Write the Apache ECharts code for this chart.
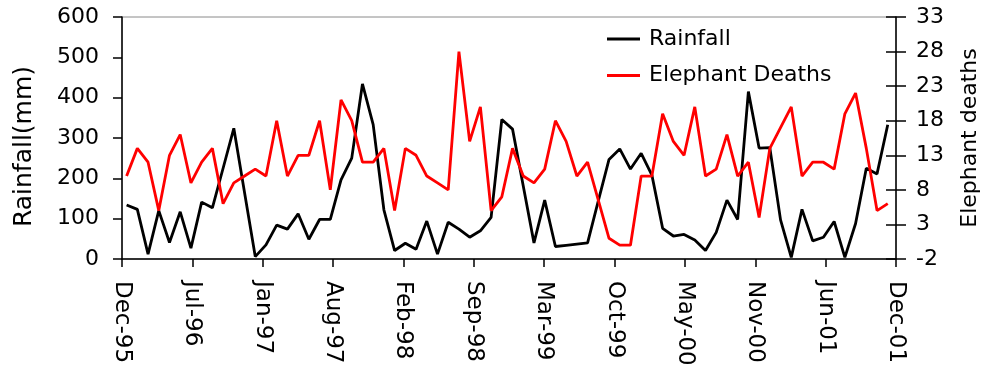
<!DOCTYPE html>
<html><head><meta charset="utf-8">
<script src="https://cdn.jsdelivr.net/npm/echarts@6/dist/echarts.min.js"></script>
<style>html,body{margin:0;padding:0;background:#fff}#c{width:984px;height:373px}</style>
</head><body><div id="c"></div>
<script>
// Tick labels of the time axis (12 equally spaced ticks)
const xTickLabels = ['Dec-95','Jul-96','Jan-97','Aug-97','Feb-98','Sep-98','Mar-99','Oct-99','May-00','Nov-00','Jun-01','Dec-01'];
// Monthly rainfall (mm), Dec-95 onwards (72 months)
const rainfall = [134,123,12,120,41,117,27,141,127,225,
  324,165,6,35,84,74,112,49,98,98,
  196,250,434,333,122,21,39,24,94,12,
  91,74,54,70,103,346,322,181,40,146,
  31,34,37,40,144,247,273,223,262,208,
  76,57,61,47,21,66,146,98,415,275,
  276,97,4,123,45,54,93,4,88,225,
  211,333];
// Monthly elephant deaths, same months
const elephantDeaths = [10,14,12,5,13,16,9,12,14,6,
  9,10,11,10,18,10,13,13,18,8,
  21,18,12,12,14,5,14,13,10,9,
  8,28,15,20,5,7,14,10,9,11,
  18,15,10,12,6.5,1,0,0,10,10,
  19,15,13,20,10,11,16,10,12,4,
  14,17,20,10,12,12,11,19,22,14,
  5,6];
const leftTicks = {min:0, max:600, interval:100};
const rightTicks = {min:-2, max:33, interval:5};

const FONT = 'DejaVu Sans';
const BLACK = '#000';
const axisLineStyle = {color:BLACK, width:1.5};

const chart = echarts.init(document.getElementById('c'), null, {renderer:'canvas'});
chart.setOption({
  animation:false,
  backgroundColor:'#fff',
  grid:{left:122, right:88, top:17, bottom:114, show:true, borderColor:'#8a8a8a', borderWidth:1, outerBoundsMode:'none'},
  legend:{
    orient:'vertical', left:607, top:28, padding:0, icon:'rect', itemWidth:33, itemHeight:3, itemGap:14.6,
    textStyle:{fontSize:22, fontFamily:FONT, color:BLACK, padding:[0,0,0,4]},
    data:['Rainfall','Elephant Deaths']
  },
  xAxis:[
    {type:'value', min:0, max:xTickLabels.length-1, interval:1, position:'bottom',
     axisLine:{show:true, onZero:false, lineStyle:axisLineStyle},
     axisTick:{show:true, length:8, lineStyle:axisLineStyle},
     axisLabel:{rotate:-90, margin:22, fontSize:23, fontFamily:FONT, color:BLACK, padding:[10,0,0,0],
       formatter:(v)=>xTickLabels[Math.round(v)]},
     splitLine:{show:false}},
    {type:'value', min:-0.43, max:rainfall.length-1+0.77, show:false, axisLine:{onZero:false}, splitLine:{show:false}}
  ],
  yAxis:[
    {type:'value', min:leftTicks.min, max:leftTicks.max, interval:leftTicks.interval, position:'left',
     axisLine:{show:true, onZero:false, lineStyle:axisLineStyle},
     axisTick:{show:true, length:9, lineStyle:axisLineStyle},
     axisLabel:{margin:23, fontSize:22, fontFamily:FONT, color:BLACK},
     splitLine:{show:false},
     name:'Rainfall(mm)', nameLocation:'middle', nameGap:85,
     nameTextStyle:{fontSize:25, fontFamily:FONT, color:BLACK, padding:[0,17,0,0]}},
    {type:'value', min:rightTicks.min, max:rightTicks.max, interval:rightTicks.interval, position:'right',
     axisLine:{show:true, onZero:false, lineStyle:axisLineStyle},
     axisTick:{show:true, length:10, lineStyle:axisLineStyle},
     axisLabel:{margin:20, fontSize:22, fontFamily:FONT, color:BLACK},
     splitLine:{show:false},
     name:'Elephant deaths', nameLocation:'middle', nameGap:63,
     nameTextStyle:{fontSize:22, fontFamily:FONT, color:BLACK}},
    {type:'value', min:rightTicks.min, max:rightTicks.max, interval:rightTicks.interval, position:'right',
     axisLine:{show:false, onZero:false},
     axisTick:{show:true, inside:true, length:10, lineStyle:axisLineStyle},
     axisLabel:{show:false}, splitLine:{show:false}}
  ],
  series:[
    {type:'line', name:'Rainfall', xAxisIndex:1, yAxisIndex:0, symbol:'none', z:3,
     data:rainfall.map((v,i)=>[i,v]),
     lineStyle:{color:BLACK, width:2.8}, itemStyle:{color:BLACK}},
    {type:'line', name:'Elephant Deaths', xAxisIndex:1, yAxisIndex:1, symbol:'none', z:4,
     data:elephantDeaths.map((v,i)=>[i,v]),
     lineStyle:{color:'#ff0000', width:2.8}, itemStyle:{color:'#ff0000'}}
  ]
});
</script>
</body></html>
